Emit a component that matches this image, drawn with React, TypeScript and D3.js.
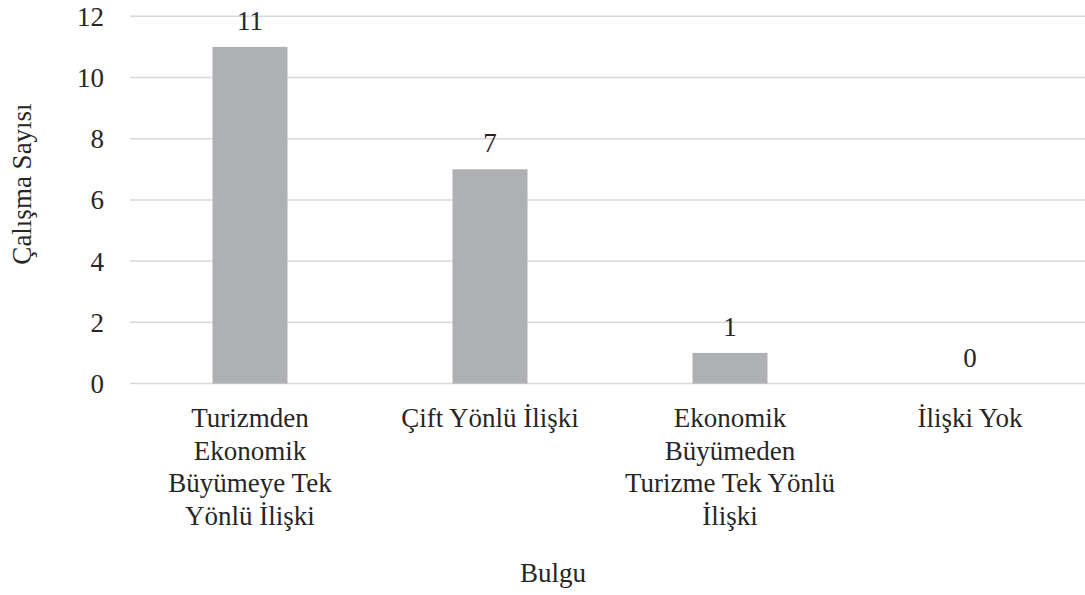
import React from "react";
import * as d3 from "d3";

const categories = [
  "Turizmden Ekonomik Büyümeye Tek Yönlü İlişki",
  "Çift Yönlü İlişki",
  "Ekonomik Büyümeden Turizme Tek Yönlü İlişki",
  "İlişki Yok",
];
const values = [11, 7, 1, 0];
const yTicks = [0, 2, 4, 6, 8, 10, 12];
const yTitle = "Çalışma Sayısı";
const xTitle = "Bulgu";

const W = 1085;
const H = 595;
const FS = 27;
const FAMILY = '"Liberation Serif", "Times New Roman", Tinos, "DejaVu Serif", "Noto Serif", serif';
const textStyle: React.CSSProperties = { fontFamily: FAMILY, fontSize: FS + "px" };

// approximate Times-style advance widths (em) for wrapping
const CW: Record<string, number> = {
  " ": 0.25, T: 0.611, E: 0.611, B: 0.667, Y: 0.722, "Ç": 0.667, "İ": 0.333, I: 0.333,
  u: 0.5, r: 0.333, i: 0.278, z: 0.444, m: 0.778, d: 0.5, e: 0.444, n: 0.5, k: 0.5,
  o: 0.5, y: 0.5, "ü": 0.5, "ö": 0.5, l: 0.278, "ş": 0.389, f: 0.333, t: 0.278,
};
const textWidth = (s: string) => [...s].reduce((a, c) => a + (CW[c] ?? 0.5), 0) * FS;

function wrap(text: string, maxW: number): string[] {
  const words = text.split(" ");
  const lines: string[] = [];
  let cur = "";
  for (const w of words) {
    const t = cur ? cur + " " + w : w;
    if (textWidth(t) > maxW && cur) {
      lines.push(cur);
      cur = w;
    } else cur = t;
  }
  if (cur) lines.push(cur);
  return lines;
}

export default function App() {
  const left = 130, right = 1090, top = 16.3, bottom = 383.5;
  const x = d3.scaleBand<string>().domain(categories).range([left, right])
    .paddingInner(0.6875).paddingOuter(0.34375);
  const y = d3.scaleLinear().domain([0, 12]).range([bottom, top]);
  const fill = "#262626";
  return (
    <svg width={W} height={H}
      style={{ position: "absolute", left: 0, top: 0, background: "#fff" }}>
      {yTicks.map((t) => (
        <line key={"g" + t} x1={left} x2={right} y1={y(t)} y2={y(t)} stroke="#d9d9d9" strokeWidth={1.5} />
      ))}
      {yTicks.map((t) => (
        <text key={"t" + t} x={104} y={y(t)} dy="0.35em" textAnchor="end" fill={fill} style={textStyle}>
          {t}
        </text>
      ))}
      {values.map((v, i) => (
        <rect key={"b" + i} x={x(categories[i])!} width={x.bandwidth()} y={y(v)} height={bottom - y(v)} fill="#afb0b3" />
      ))}
      {values.map((v, i) => (
        <text key={"v" + i} x={x(categories[i])! + x.bandwidth() / 2} y={y(v) - 17} textAnchor="middle" fill={fill} style={textStyle}>
          {v}
        </text>
      ))}
      {categories.map((c) => {
        const cx = x(c)! + x.bandwidth() / 2;
        return (
          <text key={c} textAnchor="middle" fill={fill} style={textStyle}>
            {wrap(c, 8.2 * FS).map((ln, k) => (
              <tspan key={k} x={cx} y={427 + k * 32.7}>{ln}</tspan>
            ))}
          </text>
        );
      })}
      <text transform="translate(31,184) rotate(-90)" textAnchor="middle" fill={fill} style={textStyle}>{yTitle}</text>
      <text x={553} y={582} textAnchor="middle" fill={fill} style={textStyle}>{xTitle}</text>
    </svg>
  );
}
